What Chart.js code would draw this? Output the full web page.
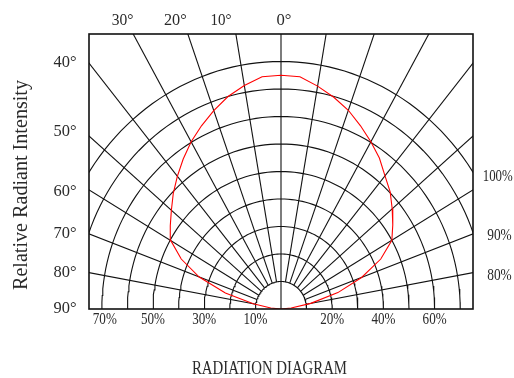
<!DOCTYPE html>
<html>
<head>
<meta charset="utf-8">
<script src="https://cdn.jsdelivr.net/npm/chart.js@4.4.0/dist/chart.umd.min.js"></script>
<style>
  html, body { margin: 0; padding: 0; background: #fff; }
  #wrap { width: 514px; height: 378px; }
</style>
</head>
<body>
<div id="wrap"><canvas id="radiation" width="514" height="378"></canvas></div>
<script>
// grid: rings in % of relative intensity, rays in degrees
const ringValues = [10, 20, 30, 40, 50, 60, 70, 80, 90];
const rayAngles = [-80, -70, -60, -50, -40, -30, -20, -10, 0, 10, 20, 30, 40, 50, 60, 70, 80];

// measured radiation pattern (angle in degrees, intensity in %)
const curveAngles = [-90, -85, -80, -75, -70, -65, -60, -55, -50, -45, -40, -35, -30, -25, -20, -15, -10, -5,
                     0, 5, 10, 15, 20, 25, 30, 35, 40, 45, 50, 55, 60, 65, 70, 75, 80, 85, 90];
const curveValues = [0, 4, 11, 22.5, 34, 43, 49.7, 52.8, 55.9, 59.5, 63, 66.6, 70.2, 73.5, 76.8, 80, 82.5, 84.8,
                     85, 84.8, 82.3, 79.7, 76.9, 73.5, 70.2, 67, 63.2, 60.3, 56.7, 53.3, 50, 43, 33.5, 23, 11.8, 4, 0];

// labels
const topAngleLabels = ['30°', '20°', '10°', '0°'];
const leftAngleLabels = ['40°', '50°', '60°', '70°', '80°', '90°'];
const rightPercentLabels = ['100%', '90%', '80%'];
const bottomTicks = [-70, -50, -30, -10, 20, 40, 60];
const xTitle = 'RADIATION DIAGRAM';
const yTitle = 'Relative Radiant Intensity';

// polar -> cartesian, 0 deg points straight up
const toXY = (r, deg) => {
    const a = deg * Math.PI / 180;
    return { x: r * Math.sin(a), y: r * Math.cos(a) };
};

const lineSet = (data, color, width) => ({
    data: data,
    showLine: true,
    borderColor: color,
    borderWidth: width,
    pointRadius: 0,
    fill: false,
    tension: 0
});

const datasets = [];
// red curve first so it is drawn on top
datasets.push(lineSet(curveAngles.map((a, i) => toXY(curveValues[i], a)), '#ff0000', 1.1));

ringValues.forEach(r => {
    const pts = [];
    for (let a = -90; a <= 90; a += 2) pts.push(toXY(r, a));
    datasets.push(lineSet(pts, '#111', 1.1));
});

rayAngles.forEach(a => {
    const start = a === 0 ? 0 : ringValues[0];
    datasets.push(lineSet([toXY(start, a), toXY(300, a)], '#111', 1.1));
});

// text squeezed/stretched to the width it takes in the original
function fitText(ctx, text, cx, base, width, size, rotate) {
    ctx.save();
    ctx.font = size + 'px "Liberation Serif", "DejaVu Serif", serif';
    const w = ctx.measureText(text).width;
    ctx.translate(cx, base);
    if (rotate) ctx.rotate(-Math.PI / 2);
    ctx.scale(width / w, 1);
    ctx.textAlign = 'center';
    ctx.textBaseline = 'alphabetic';
    ctx.fillStyle = '#2a2a2a';
    ctx.fillText(text, 0, 0);
    ctx.restore();
}

const frameAndLabels = {
    id: 'frameAndLabels',
    afterDraw(chart) {
        const ctx = chart.ctx;
        const area = chart.chartArea;
        const xs = chart.scales.x;

        ctx.save();
        ctx.strokeStyle = '#111';
        ctx.lineWidth = 1.6;
        ctx.strokeRect(area.left, area.top, area.right - area.left, area.bottom - area.top);
        ctx.restore();

        const topX = [122.5, 175.3, 221, 284];
        const topW = [21.7, 22.7, 21, 15];
        topAngleLabels.forEach((t, i) => fitText(ctx, t, topX[i], 25, topW[i], 17));

        const leftY = [66.7, 136, 196.3, 238.3, 276.7, 313.3];
        leftAngleLabels.forEach((t, i) => fitText(ctx, t, 65, leftY[i], 23, 17));

        const rightY = [181, 239.5, 280];
        const rightX = [497.7, 499.5, 499.5];
        const rightW = [30, 24.5, 24.5];
        rightPercentLabels.forEach((t, i) => fitText(ctx, t, rightX[i], rightY[i], rightW[i], 17));

        bottomTicks.forEach(v => {
            const px = xs.getPixelForValue(v) + (v === -70 ? 3 : 0);
            fitText(ctx, Math.abs(v) + '%', px, 324, 24, 17);
        });

        fitText(ctx, xTitle, 269.5, 374, 155, 18);
        fitText(ctx, yTitle, 26.5, 185, 210, 21, true);
    }
};

new Chart(document.getElementById('radiation'), {
    type: 'scatter',
    data: { datasets: datasets },
    options: {
        responsive: false,
        animation: false,
        layout: { padding: { left: 89, right: 41, top: 34, bottom: 69 } },
        scales: {
            x: { type: 'linear', min: -75, max: 75, display: false },
            y: { type: 'linear', min: 0, max: 100, display: false }
        },
        plugins: {
            legend: { display: false },
            tooltip: { enabled: false }
        }
    },
    plugins: [frameAndLabels]
});
</script>
</body>
</html>
